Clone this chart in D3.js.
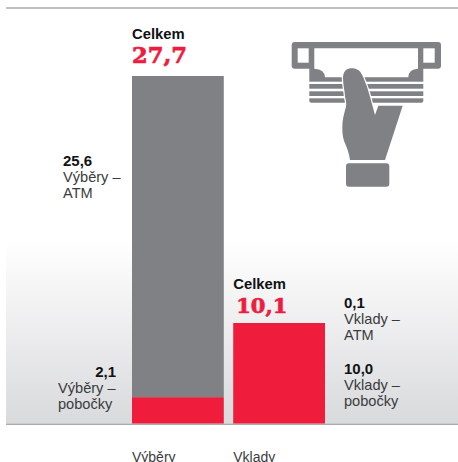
<!DOCTYPE html>
<html lang="cs">
<head>
<meta charset="utf-8">
<script src="https://cdn.jsdelivr.net/npm/d3@7"></script>
<style>
  html, body { margin: 0; padding: 0; background: #fff; overflow: hidden; }
  svg { display: block; }
  text { font-family: "Liberation Sans", Arial, sans-serif; }
</style>
</head>
<body>
<svg id="chart" width="458" height="462"></svg>
<script>
// Values in the same unit as the printed labels
const categories = ["Výběry", "Vklady"];
const totals = [27.7, 10.1];
const totalLabels = ["27,7", "10,1"];
const withdrawalValues = [2.1, 25.6];   // branches, ATM
const depositValues = [10.0, 0.1];      // branches, ATM
const withdrawalColors = ["#f01c3c", "#808184"];
const depositColors = ["#f01c3c", "#f01c3c"];
const sideNotes = [
  { value: "25,6", lines: ["Výběry –", "ATM"], x: 63, y: 166, valueX: 63, anchor: "start" },
  { value: "2,1", lines: ["Výběry –", "pobočky"], x: 58, y: 376.7, valueX: 116, anchor: "end" },
  { value: "0,1", lines: ["Vklady –", "ATM"], x: 344, y: 307.7, valueX: 344, anchor: "start" },
  { value: "10,0", lines: ["Vklady –", "pobočky"], x: 344, y: 373.7, valueX: 344, anchor: "start" }
];

const svg = d3.select("#chart");
const baseline = 423.5;
const ink = "#111214", grey = "#808184", note = "#3a3b3d";

// Backdrop fading in towards the baseline
const defs = svg.append("defs");
const fade = defs.append("linearGradient").attr("id", "fade")
  .attr("x1", 0).attr("x2", 0).attr("y1", 0).attr("y2", 1);
fade.append("stop").attr("offset", 0).attr("stop-color", "#ffffff");
fade.append("stop").attr("offset", 1).attr("stop-color", "#d9dadc");
svg.append("rect").attr("x", 6).attr("y", 240).attr("width", 452)
  .attr("height", baseline - 240).attr("fill", "url(#fade)");

// Top and bottom rules
[8, 424.3].forEach(y => svg.append("line")
  .attr("x1", 6).attr("x2", 458).attr("y1", y).attr("y2", y)
  .attr("stroke", "#a9abae").attr("stroke-width", 1.6));

// Two 92 px columns separated by a 9 px gap
const x = d3.scaleBand().domain(categories).range([132, 325])
  .paddingInner(9 / 96.5).paddingOuter(0);
const barWidth = x.bandwidth();

// Each group sits on its own independent vertical scale: the two column
// heights are not comparable with each other, only within their own stack.
const yScales = [
  d3.scaleLinear().domain([0, totals[0]]).range([baseline, 76]),
  d3.scaleLinear().domain([0, totals[1]]).range([baseline, 323])
];
const groups = [
  { values: withdrawalValues, colors: withdrawalColors },
  { values: depositValues, colors: depositColors }
];

groups.forEach((g, i) => {
  const stack = d3.stack().keys(d3.range(g.values.length))([g.values]);
  svg.append("g").selectAll("rect").data(stack).join("rect")
    .attr("x", x(categories[i]))
    .attr("width", barWidth)
    .attr("y", s => yScales[i](s[0][1]))
    .attr("height", s => yScales[i](s[0][0]) - yScales[i](s[0][1]))
    .attr("fill", (s, k) => g.colors[k]);
});

// Totals above each column
const headerOffsets = [[37, 13], [34.3, 10]];
categories.forEach((c, i) => {
  const top = yScales[i](totals[i]);
  svg.append("text").attr("x", x(c)).attr("y", top - headerOffsets[i][0])
    .attr("font-size", 14.8).attr("font-weight", 700).attr("fill", ink).text("Celkem");
  svg.append("text").attr("x", x(c) + (i ? 3 : 0)).attr("y", top - headerOffsets[i][1])
    .style("font-family", '"DejaVu Serif", serif')
    .attr("font-size", i ? 21 : 22.6).attr("font-weight", 700).attr("fill", "#ee1c3e")
    .attr("stroke", "#ee1c3e").attr("stroke-width", 0.7)
    .text(totalLabels[i]);
  // Category names under the baseline
  svg.append("text").attr("x", x(c)).attr("y", 461.5)
    .attr("font-size", 14).attr("fill", note).text(c);
});

// Annotations beside the columns
sideNotes.forEach(n => {
  svg.append("text").attr("x", n.valueX).attr("y", n.y).attr("text-anchor", n.anchor)
    .attr("font-size", 15).attr("font-weight", 700).attr("fill", ink).text(n.value);
  n.lines.forEach((t, k) => svg.append("text").attr("x", n.x).attr("y", n.y + 16 + k * 16)
    .attr("font-size", 14.6).attr("fill", note).text(t));
});

// Cash machine pictogram
const icon = svg.append("g").attr("fill", grey);
icon.append("rect").attr("x", 291.7).attr("y", 42).attr("width", 149.3).attr("height", 26.7).attr("rx", 3);
icon.append("path").attr("d", "M309.3 66H423.3V100.7Q423.3 102.7 421.3 102.7H311.3Q309.3 102.7 309.3 100.7Z");
const paper = icon.append("g").attr("fill", "#fff");
paper.append("rect").attr("x", 297.7).attr("y", 48.3).attr("width", 11).attr("height", 14.4);
paper.append("rect").attr("x", 423.3).attr("y", 48.3).attr("width", 11.4).attr("height", 14.4);
paper.append("path").attr("d", "M314.3 48.3H418V68.7Q408.3 69.5 408.3 77.3H325Q325 69.5 314.3 68.7Z");
[[81.7, 2.3], [88.7, 2.6], [96, 2.3]].forEach(([y, h]) =>
  paper.append("rect").attr("x", 308).attr("y", y).attr("width", 117).attr("height", h));
icon.append("path")
  .attr("d", "M351 68.3C346 68.3 343 72 343 78.3C343 85 345 92 345 96.7C346 100 346.5 103 346 106.7C344 114 342.3 120 342.3 126.7C342.3 134 343 138 345 143.3C347 148 349 153 350 160H385L402.7 105.7H378.3L375 115L370 96.7C368 90 367 86 365 81.7C363 76 361 72 358.3 70C356 68.7 353.5 68.3 351 68.3Z")
  .attr("stroke", "#fff").attr("stroke-width", 2.4).attr("paint-order", "stroke");
icon.append("rect").attr("x", 346).attr("y", 163.3).attr("width", 43.3).attr("height", 23.4).attr("rx", 3);
</script>
</body>
</html>
